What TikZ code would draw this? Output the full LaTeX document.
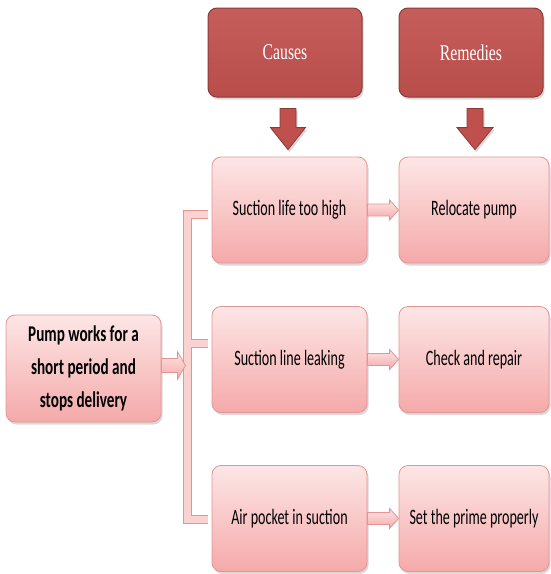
\documentclass[tikz,border=0pt]{standalone}
\usepackage{fontspec}
\setmainfont{Carlito}
\newfontfamily\boxfont[FakeStretch=0.64]{Carlito}
\newfontfamily\leadfont[FakeStretch=0.675]{Carlito}
\newfontfamily\headfont[FakeStretch=0.70]{Liberation Serif}
\usetikzlibrary{shadows,calc,backgrounds}

\definecolor{headfill}{HTML}{C0504D}
\definecolor{headedge}{HTML}{8C3A38}
\definecolor{pinktop}{HTML}{FDE6E6}
\definecolor{pinkbot}{HTML}{F5A9A9}
\definecolor{pinkedge}{HTML}{E29595}
\definecolor{bracketfill}{HTML}{FAD2D2}

% horizontal block arrow: from, to, shaft half-width, head half-width, head length, style
\newcommand\blockarrowH[6]{%
  \draw[#6] let \p1=(#1), \p2=(#2) in
    (\x1,\y1+#3) -- (\x2-#5,\y1+#3) -- (\x2-#5,\y1+#4) -- (\x2,\y1)
    -- (\x2-#5,\y1-#4) -- (\x2-#5,\y1-#3) -- (\x1,\y1-#3) -- cycle;}
% downward block arrow: from, to, shaft half-width, head half-width, head length, style
\newcommand\blockarrowV[6]{%
  \draw[#6] let \p1=(#1), \p2=(#2) in
    (\x1-#3,\y1) -- (\x1-#3,\y2+#5) -- (\x1-#4,\y2+#5) -- (\x1,\y2)
    -- (\x1+#4,\y2+#5) -- (\x1+#3,\y2+#5) -- (\x1+#3,\y1) -- cycle;}

\tikzset{
  softshadow/.style={drop shadow={opacity=0.3, shadow xshift=1.5pt, shadow yshift=-2.5pt}},
  headbox/.style={rectangle, rounded corners=9pt, draw=headedge, line width=1pt,
    top color=headfill!92!white, bottom color=headfill!96!black,
    minimum height=89pt, text=white, softshadow,
    font=\headfont\fontsize{22.5}{26}\selectfont},
  pinkbox/.style={rectangle, rounded corners=9pt, draw=pinkedge, line width=0.8pt,
    top color=pinktop, bottom color=pinkbot, minimum height=106pt,
    align=center, softshadow, font=\boxfont\fontsize{22}{26}\selectfont},
  pinkarrow/.style={draw=pinkedge, line width=0.8pt, top color=pinktop, bottom color=pinkbot},
  redarrow/.style={draw=headedge, line width=0.8pt, fill=headfill, softshadow},
  bracketedge/.style={draw=pinkedge, line width=9pt},
  bracketbody/.style={draw=bracketfill, line width=7pt},
}

\begin{document}
\begin{tikzpicture}[x=1pt, y=-1pt]
\useasboundingbox (0,0) rectangle (550,574);

% column headers
\node[headbox, minimum width=154pt] (hc) at (285,52.5) {Causes};
\node[headbox, minimum width=144pt] (hr) at (471,52.5) {Remedies};

% problem statement
\node[pinkbox, minimum width=155pt, minimum height=107pt,
      font=\leadfont\bfseries\fontsize{22.5}{33}\selectfont] (p) at (83.5,368.5)
  {Pump works for a\\short period and\\stops delivery};

% causes
\node[pinkbox, minimum width=155pt] (c1) at (289.5,210) {Suction life too high};
\node[pinkbox, minimum width=155pt] (c2) at (289.5,359.5) {Suction line leaking};
\node[pinkbox, minimum width=155pt] (c3) at (289.5,518.5) {Air pocket in suction};

% remedies
\node[pinkbox, minimum width=150pt] (r1) at (474,210) {Relocate pump};
\node[pinkbox, minimum width=150pt] (r2) at (474,359.5) {Check and repair};
\node[pinkbox, minimum width=150pt] (r3) at (474,518.5) {Set the prime properly};

% bracket joining the problem to its causes
\begin{scope}[on background layer]
\foreach \s in {bracketedge, bracketbody}{
  \draw[\s, line join=miter] ($(c1.west)+(-4,4.5)$) -- ++(-20,0) |- ($(c3.west)+(-4,1)$);
  \draw[\s] ($(c2.west)+(-4,-16)$) -- ++(-20,0);
}
\end{scope}

% arrows
\coordinate (pj) at ($(p.east)+(24,-3)$);
\blockarrowH{$(p.east)+(0,-3)$}{pj}{7pt}{14pt}{8pt}{pinkarrow}
\blockarrowH{c1.east}{r1.west}{6pt}{10pt}{9pt}{pinkarrow}
\blockarrowH{c2.east}{r2.west}{6pt}{10pt}{9pt}{pinkarrow}
\blockarrowH{c3.east}{r3.west}{6pt}{10pt}{9pt}{pinkarrow}
\blockarrowV{$(hc.south)+(3,11)$}{$(c1.north)+(-1.5,-7)$}{8pt}{17.5pt}{22pt}{redarrow}
\blockarrowV{$(hr.south)+(4,11)$}{$(r1.north)+(1,-7)$}{8pt}{18pt}{22pt}{redarrow}
\end{tikzpicture}
\end{document}
